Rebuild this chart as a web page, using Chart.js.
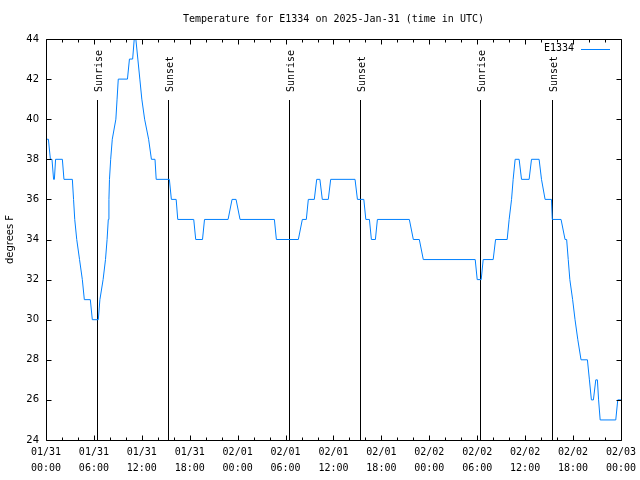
<!DOCTYPE html>
<html>
<head>
<meta charset="utf-8">
<script src="https://cdn.jsdelivr.net/npm/chart.js@4/dist/chart.umd.min.js"></script>
<style>
  html, body { margin: 0; padding: 0; background: #fff; }
  #wrap { width: 640px; height: 480px; }
</style>
</head>
<body>
<div id="wrap"><canvas id="tempChart" width="640" height="480"></canvas></div>
<script>
// hours since 2025-01-31 00:00 UTC
const timeHours = [
    0.1, 0.3, 0.55, 0.75, 0.95, 1.05, 1.2, 2.05, 2.25, 3.3,
    3.45, 3.6, 3.85, 4.2, 4.55, 4.8, 5.55, 5.8, 6.55,
    6.75, 7.15, 7.45, 7.65, 7.8, 7.88, 7.95, 8.1, 8.3, 8.75, 8.9, 9.05, 10.2, 10.45, 10.85, 11.05, 11.25,
    11.5, 11.75, 12.0, 12.35, 12.85, 13.2, 13.65, 13.8, 15.45,
    15.7, 16.3, 16.5, 18.5, 18.75, 19.6, 19.85, 22.8, 23.3, 23.8, 24.3, 28.6, 28.85, 31.6,
    32.1, 32.6, 32.85, 33.6, 33.9, 34.3, 34.6, 35.35, 35.65, 38.7, 39.0, 39.8, 40.05, 40.5, 40.75, 41.25, 41.5,
    45.5, 46.0, 46.75, 47.25, 53.75, 54.0, 54.5, 54.75, 56.0, 56.3, 57.75,
    58.0, 58.3, 58.5, 58.75, 59.25, 59.55, 60.5, 60.8, 61.75, 62.05, 62.5, 63.3, 63.4, 64.5, 65.0, 65.2,
    65.4, 65.6, 65.95, 66.25, 66.6, 67.0, 67.8, 68.05, 68.3, 68.55, 68.85, 69.05, 69.2, 69.4, 71.35, 71.6, 72.0
];
const tempF = [
    39, 39, 38, 38, 37, 37, 38, 38, 37, 37,
    36, 35, 34, 33, 32, 31, 31, 30, 30,
    31, 32, 33, 34, 35, 36, 37, 38, 39, 40, 41, 42, 42, 43, 43, 44, 44,
    43, 42, 41, 40, 39, 38, 38, 37, 37,
    36, 36, 35, 35, 34, 34, 35, 35, 36, 36, 35, 35, 34, 34,
    35, 35, 36, 36, 37, 37, 36, 36, 37, 37, 36, 36, 35, 35, 34, 34, 35,
    35, 34, 34, 33, 33, 32, 32, 33, 33, 34, 34,
    35, 36, 37, 38, 38, 37, 37, 38, 38, 37, 36, 36, 35, 35, 34, 34,
    33, 32, 31, 30, 29, 28, 28, 27, 26, 26, 27, 27, 26, 25, 25, 26, 26
];

const sunriseHours = [6.42, 30.45, 54.38];
const sunsetHours = [15.28, 39.35, 63.38];

const xTickHours = [0, 6, 12, 18, 24, 30, 36, 42, 48, 54, 60, 66, 72];
const xTickDates = ['01/31', '01/31', '01/31', '01/31', '02/01', '02/01', '02/01', '02/01', '02/02', '02/02', '02/02', '02/02', '02/03'];
const xTickTimes = ['00:00', '06:00', '12:00', '18:00', '00:00', '06:00', '12:00', '18:00', '00:00', '06:00', '12:00', '18:00', '00:00'];
const yTicks = [24, 26, 28, 30, 32, 34, 36, 38, 40, 42, 44];

const MONO = "'DejaVu Sans Mono', monospace";
const SANS = "'DejaVu Sans', sans-serif";
const lineColor = 'rgb(0, 128, 255)';

// gnuplot style frame: box, inward ticks, sun lines, legend
const framePlugin = {
    id: 'frame',
    beforeDatasetsDraw(chart) {
        const ctx = chart.ctx;
        const x = chart.scales.x;
        const a = chart.chartArea;
        ctx.save();
        ctx.strokeStyle = '#000';
        ctx.lineWidth = 1;
        ctx.fillStyle = '#000';
        ctx.font = '10px ' + MONO;
        const drawSun = (h, label) => {
            const px = Math.round(x.getPixelForValue(h)) + 0.5;
            ctx.beginPath();
            ctx.moveTo(px, 100);
            ctx.lineTo(px, a.bottom);
            ctx.stroke();
            ctx.save();
            ctx.translate(px + 2, 92);
            ctx.rotate(-Math.PI / 2);
            ctx.textAlign = 'left';
            ctx.textBaseline = 'middle';
            ctx.fillText(label, 0, 0);
            ctx.restore();
        };
        sunriseHours.forEach(h => drawSun(h, 'Sunrise'));
        sunsetHours.forEach(h => drawSun(h, 'Sunset'));
        ctx.restore();
    },
    afterDatasetsDraw(chart) {
        const ctx = chart.ctx;
        const x = chart.scales.x;
        const y = chart.scales.y;
        const a = chart.chartArea;
        const L = Math.round(a.left) + 0.5, R = Math.round(a.right) + 0.5;
        const T = Math.round(a.top) + 0.5, B = Math.round(a.bottom) + 0.5;
        ctx.save();
        ctx.strokeStyle = '#000';
        ctx.lineWidth = 1;
        ctx.beginPath();
        ctx.rect(L, T, R - L, B - T);
        // x ticks, major every 6h, minor every 2h
        for (let h = 0; h <= 72; h += 2) {
            const len = h % 6 === 0 ? 5 : 3;
            const px = Math.round(x.getPixelForValue(h)) + 0.5;
            ctx.moveTo(px, B); ctx.lineTo(px, B - len);
            ctx.moveTo(px, T); ctx.lineTo(px, T + len);
        }
        yTicks.forEach(v => {
            const py = Math.round(y.getPixelForValue(v)) + 0.5;
            ctx.moveTo(L, py); ctx.lineTo(L + 5, py);
            ctx.moveTo(R, py); ctx.lineTo(R - 5, py);
        });
        ctx.stroke();

        // legend
        ctx.font = '10px ' + MONO;
        ctx.fillStyle = '#000';
        ctx.textAlign = 'right';
        ctx.textBaseline = 'middle';
        ctx.fillText(chart.data.datasets[0].label, 574, 48);
        ctx.strokeStyle = lineColor;
        ctx.beginPath();
        ctx.moveTo(581, 49.5);
        ctx.lineTo(610, 49.5);
        ctx.stroke();
        ctx.restore();
    }
};

const tempChart = new Chart(document.getElementById('tempChart').getContext('2d'), {
    type: 'line',
    data: {
        datasets: [{
            label: 'E1334',
            data: timeHours.map((h, i) => ({ x: h, y: tempF[i] })),
            borderColor: lineColor,
            borderWidth: 1,
            pointRadius: 0,
            fill: false,
            tension: 0
        }]
    },
    options: {
        responsive: false,
        animation: false,
        layout: { padding: { left: 0, right: 19, top: 0, bottom: 0 } },
        plugins: {
            legend: { display: false },
            tooltip: { enabled: false },
            title: {
                display: true,
                fullSize: false,
                text: 'Temperature for E1334 on 2025-Jan-31 (time in UTC)',
                color: '#000',
                font: { family: MONO, size: 10, weight: 'normal', lineHeight: 1.2 },
                padding: { top: 13, bottom: 14 }
            }
        },
        scales: {
            x: {
                type: 'linear',
                min: 0,
                max: 72,
                grid: { display: false, drawTicks: false },
                border: { display: false },
                afterBuildTicks: scale => { scale.ticks = xTickHours.map(v => ({ value: v })); },
                afterFit: scale => { scale.height = 40; },
                ticks: {
                    autoSkip: false,
                    maxRotation: 0,
                    color: '#000',
                    padding: 4,
                    font: { family: MONO, size: 10, lineHeight: 1.6 },
                    callback: (v, i) => [xTickDates[i], xTickTimes[i]]
                }
            },
            y: {
                min: 24,
                max: 44,
                grid: { display: false, drawTicks: false },
                border: { display: false },
                afterBuildTicks: scale => { scale.ticks = yTicks.map(v => ({ value: v })); },
                afterFit: scale => { scale.width = 46; },
                ticks: {
                    color: '#000',
                    padding: 7,
                    font: { family: SANS, size: 10 }
                },
                title: {
                    display: true,
                    text: 'degrees F',
                    color: '#000',
                    font: { family: SANS, size: 10, lineHeight: 1.2 },
                    padding: { top: 4, bottom: 0 }
                }
            }
        }
    },
    plugins: [framePlugin]
});
</script>
</body>
</html>
